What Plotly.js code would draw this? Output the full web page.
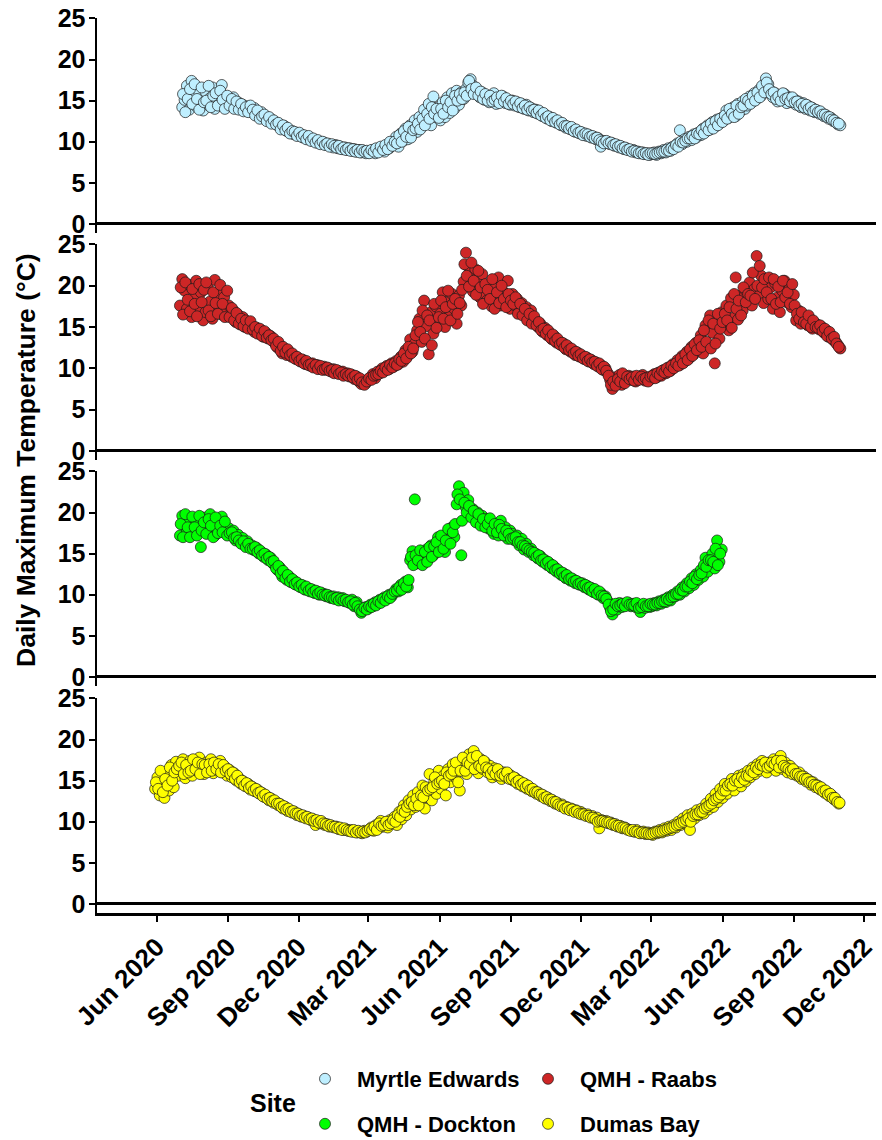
<!DOCTYPE html>
<html>
<head>
<meta charset="utf-8">
<script src="https://cdn.plot.ly/plotly-3.0.1.min.js"></script>
<style>html,body{margin:0;padding:0;background:#fff;}</style>
</head>
<body>
<div id="chart" style="width:882px;height:1140px;"></div>
<script>
// ---- data: daily maximum temperature (°C), two interleaved 3-day samplings per site ----
const sites = ['Myrtle Edwards', 'QMH - Raabs', 'QMH - Dockton', 'Dumas Bay'];
const siteColors = ['#BFEFFF', '#CD2626', '#00FF00', '#FFFF00'];
const startDatesA = ['2020-07-04', '2020-07-01', '2020-07-01', '2020-05-30'];
const startDatesB = ['2020-07-05', '2020-07-02', '2020-07-02', '2020-05-31'];
const stepDays = 3;
const xTickLabels = ['Jun 2020','Sep 2020','Dec 2020','Mar 2021','Jun 2021','Sep 2021','Dec 2021','Mar 2022','Jun 2022','Sep 2022','Dec 2022'];
const xTickDates = ['2020-06-01','2020-09-01','2020-12-01','2021-03-01','2021-06-01','2021-09-01','2021-12-01','2022-03-01','2022-06-01','2022-09-01','2022-12-01'];
const yTicks = [0, 5, 10, 15, 20, 25];

const myrtleEdwardsA = [
 14.2,15.1,16.8,13.9,17.4,15.6,14.3,16.2,15.0,13.8,
 16.1,14.5,15.3,16.6,14.0,15.8,14.6,16.9,15.2,14.3,
 15.0,14.6,15.4,14.2,14.8,14.0,14.5,13.8,14.3,13.9,
 13.6,14.1,13.4,13.2,13.6,12.9,13.0,12.6,12.8,12.3,
 12.4,12.0,11.8,11.6,11.9,11.3,11.4,11.1,10.9,11.0,
 10.8,10.9,10.5,10.6,10.3,10.4,10.1,10.2,9.9,10.0,9.8,
 9.9,9.6,9.7,9.5,9.3,9.6,9.2,9.4,9.1,9.3,
 9.0,9.2,8.9,9.1,8.8,9.0,8.7,8.9,8.6,
 8.8,8.7,9.0,8.6,9.1,8.9,9.3,8.8,9.5,9.2,9.8,
 9.6,10.6,9.4,11.0,10.1,11.6,10.3,12.0,10.9,12.6,
 11.2,13.0,11.8,13.9,12.3,14.6,12.0,15.5,13.0,14.2,
 12.6,14.8,13.0,15.4,13.5,15.9,14.0,16.2,14.5,16.0,
 15.2,16.4,17.2,17.6,16.8,15.9,16.3,15.4,16.0,15.1,
 15.6,14.8,15.4,15.9,14.6,15.2,14.9,15.5,14.7,15.1,14.5,
 15.0,14.4,14.8,14.2,14.6,14.0,14.5,13.8,14.1,13.6,
 13.9,13.4,13.6,13.1,13.3,12.8,13.0,12.5,12.7,12.3,
 12.4,12.0,12.1,11.7,11.8,11.5,11.6,11.2,11.3,11.0,
 11.1,10.9,10.7,10.8,10.5,10.6,10.3,10.4,9.4,10.1,
 9.9,10.0,9.7,9.8,9.5,9.6,9.3,9.4,9.1,9.2,9.0,
 8.9,9.0,8.7,8.8,8.6,8.7,8.5,8.6,8.4,
 8.5,8.7,8.4,8.8,8.6,9.0,8.7,9.2,8.9,9.4,
 9.3,9.8,11.4,9.7,10.3,10.0,10.6,10.2,10.9,10.5,
 11.1,10.8,11.6,11.2,12.0,11.5,12.4,11.8,12.7,12.2,12.9,
 12.6,13.8,12.9,13.5,14.2,13.1,14.6,13.7,14.9,14.0,
 14.4,15.5,14.8,15.9,15.2,16.3,15.6,16.6,17.7,17.0,
 16.2,15.4,15.9,14.9,15.6,15.1,15.8,14.7,15.4,14.8,
 15.2,14.5,14.9,14.2,14.7,14.0,14.4,13.8,14.1,13.6,
 13.8,13.4,13.5,13.1,13.2,12.8,12.9,12.5,12.4,12.1,
 12.0
];
const myrtleEdwardsB = [
 15.8,13.6,15.2,16.4,14.6,17.0,15.2,13.9,16.6,14.8,
 15.0,16.8,14.2,15.6,15.9,14.4,16.2,15.1,14.0,15.6,
 14.4,15.2,14.0,14.9,13.9,14.6,13.7,14.2,13.6,14.4,
 13.9,13.2,13.8,12.8,13.1,13.3,12.5,13.0,12.2,12.6,
 12.1,12.3,11.5,12.0,11.4,11.7,11.0,11.3,11.2,10.7,
 11.1,10.6,10.8,10.3,10.7,10.1,10.4,9.9,10.2,9.7,10.0,
 9.6,9.8,9.4,9.7,9.5,9.3,9.5,9.1,9.3,9.0,
 9.2,8.9,9.1,8.8,9.0,8.7,9.0,8.8,8.9,
 8.6,9.0,8.8,9.2,8.7,9.4,9.0,9.6,9.1,10.0,9.5,
 10.0,9.8,10.8,10.0,11.3,10.6,11.8,10.5,11.4,11.6,
 12.2,11.5,12.8,12.0,13.4,12.8,14.2,13.4,14.0,12.9,
 14.0,13.4,15.0,14.2,14.8,13.8,15.6,15.0,15.8,15.2,
 16.0,15.6,17.4,16.4,15.8,16.6,15.6,16.1,15.2,15.8,
 15.0,15.6,14.9,15.1,15.4,14.7,15.6,14.9,15.3,14.6,15.0,
 14.6,14.9,14.3,14.7,14.1,14.4,13.9,14.2,13.8,13.9,
 13.5,13.8,13.2,13.5,12.9,13.1,12.6,12.9,12.4,12.6,
 12.1,12.3,11.9,11.9,11.6,11.8,11.3,11.5,11.1,11.2,
 10.8,11.0,10.9,10.6,10.7,10.4,10.5,10.2,10.0,9.8,
 10.1,9.8,9.9,9.6,9.7,9.4,9.5,9.2,9.3,9.0,9.1,
 8.8,8.9,8.8,8.6,8.7,8.5,8.6,8.4,8.6,
 8.6,8.5,8.6,8.7,8.8,8.8,9.0,8.9,9.2,9.1,
 9.6,9.4,10.0,9.9,10.1,10.4,10.4,10.7,10.4,11.0,
 10.9,11.4,11.0,11.8,11.4,12.2,11.6,12.5,12.0,12.8,12.4,
 13.2,12.8,14.0,13.4,13.0,14.4,13.4,14.2,14.4,15.2,
 15.0,14.6,15.6,15.0,16.0,15.4,16.8,16.0,17.2,16.4,
 15.8,16.0,15.2,15.5,15.0,15.9,15.2,15.3,14.9,15.4,
 14.8,14.9,14.4,14.6,14.2,14.5,14.0,14.2,13.7,13.9,
 13.6,13.7,13.3,13.3,13.0,13.0,12.7,12.6,12.3,12.2
];

const qmhRaabsA = [
 17.6,20.8,19.4,17.2,20.1,16.2,18.5,20.6,17.0,19.2,15.8,
 16.8,19.8,18.1,16.0,20.7,17.4,19.0,16.5,18.6,17.1,
 17.6,16.4,17.0,15.6,16.5,15.3,16.2,15.0,15.6,15.2,
 15.1,14.4,14.9,14.2,14.6,13.8,14.3,13.6,13.9,13.3,
 13.0,12.5,12.8,11.8,12.2,11.6,12.0,11.4,11.5,11.1,
 11.2,10.8,11.0,10.5,10.7,10.3,10.6,10.2,10.4,10.0,10.1,
 10.2,9.8,10.0,9.6,9.9,9.5,9.7,9.4,9.6,9.2,
 9.4,9.0,9.2,8.7,9.0,8.4,8.1,8.5,8.2,
 8.6,8.9,9.3,8.8,9.6,9.4,10.0,9.7,10.3,9.9,10.6,
 10.2,10.9,10.5,11.4,10.8,12.2,11.5,13.5,12.0,13.0,
 14.6,16.0,13.2,18.2,15.1,11.7,16.8,14.2,17.5,15.4,
 16.6,19.2,15.0,18.0,16.3,19.0,17.2,15.4,18.8,17.6,
 20.5,24.0,22.3,21.0,19.3,22.0,20.4,18.6,21.4,19.0,
 18.2,20.2,17.5,19.8,18.6,21.0,17.6,19.3,18.0,20.6,17.2,
 19.0,17.6,18.4,16.8,17.9,16.5,17.4,16.0,17.0,15.6,
 15.8,15.0,15.4,14.4,14.9,14.0,14.3,13.5,13.9,13.1,
 13.3,12.8,13.0,12.3,12.6,12.0,12.2,11.6,11.9,11.4,
 11.5,11.1,11.3,10.8,11.0,10.5,10.7,10.2,10.4,9.8,
 10.0,9.4,8.6,7.5,8.9,8.2,9.2,8.0,8.8,8.5,9.1,
 8.6,9.0,8.4,8.8,8.7,9.2,8.5,8.9,8.6,
 8.8,9.3,8.9,9.5,9.1,9.8,9.4,10.1,9.7,10.5,
 10.2,11.0,10.4,11.5,10.8,12.0,11.2,12.6,11.7,13.1,
 12.4,14.0,11.8,15.2,12.9,16.4,14.3,10.6,15.7,13.6,16.8,
 15.2,17.6,14.6,18.5,16.1,21.0,15.9,18.8,17.0,19.5,
 18.2,20.4,17.6,19.6,23.6,18.8,21.2,17.9,20.5,18.4,
 19.8,17.2,20.3,18.6,16.8,19.4,20.6,18.0,19.6,17.4,
 18.9,15.8,17.0,15.4,16.3,15.9,15.2,16.0,14.8,15.5,
 15.3,14.7,15.0,14.3,14.6,13.8,14.0,13.4,13.2,12.8,
 12.4
];
const qmhRaabsB = [
 19.8,16.5,20.4,18.3,16.9,19.6,17.8,16.3,20.2,18.0,19.5,
 20.4,17.0,16.3,19.2,17.9,16.6,20.1,17.8,16.2,19.4,
 16.2,17.3,15.8,16.7,15.4,16.0,15.1,15.8,14.8,15.7,
 14.7,15.0,14.2,14.8,13.9,14.5,13.7,14.0,13.4,13.6,
 12.7,13.2,12.1,12.6,11.9,12.3,11.6,11.8,11.2,11.4,
 10.9,11.1,10.6,10.9,10.4,10.5,10.1,10.4,9.9,10.3,9.8,
 9.9,10.1,9.7,9.8,9.4,9.8,9.3,9.5,9.1,9.3,
 9.1,9.3,8.9,9.1,8.6,8.8,8.3,8.0,8.4,
 8.8,8.6,9.1,9.2,9.3,9.7,9.5,10.1,9.8,10.4,10.1,
 10.6,10.4,11.1,10.9,11.8,11.2,12.6,11.8,12.4,14.0,
 15.6,14.4,17.0,13.6,16.4,15.8,12.8,17.8,14.9,16.2,
 18.2,16.0,17.4,19.4,15.8,17.8,18.4,16.6,17.9,19.5,
 22.6,21.2,19.9,22.8,20.6,18.9,21.8,19.8,17.8,20.2,
 19.5,18.4,20.8,17.2,19.2,17.9,20.0,18.4,17.4,19.0,18.2,
 17.8,18.6,16.6,17.8,16.4,17.2,15.8,16.6,15.4,16.3,
 15.2,15.6,14.6,14.8,14.2,14.6,13.7,14.1,13.3,13.6,
 12.9,13.1,12.5,12.8,12.2,12.4,11.8,12.0,11.5,11.7,
 11.2,11.4,10.9,11.1,10.7,10.8,10.3,10.6,9.9,10.2,
 9.7,9.1,8.0,8.4,7.9,8.7,8.4,9.4,8.2,9.0,8.7,
 8.9,8.5,9.1,8.6,9.0,8.7,8.8,8.4,9.0,
 9.1,8.8,9.4,9.2,9.7,9.5,10.0,9.6,10.3,10.0,
 10.6,10.3,11.2,10.6,11.7,11.0,12.3,11.5,12.9,12.2,
 13.4,12.6,14.6,13.2,15.8,12.4,15.4,13.0,16.6,14.8,15.6,
 16.6,15.8,17.4,14.9,19.0,17.2,18.2,16.4,19.8,18.0,
 19.0,18.8,21.6,18.4,20.0,22.4,19.8,20.8,19.2,21.0,
 18.4,20.8,17.8,19.9,18.0,20.6,18.6,19.2,17.8,20.2,
 17.6,16.6,16.0,16.8,15.6,15.4,16.4,15.0,15.8,15.0,
 14.9,15.2,14.5,14.8,13.9,14.4,13.6,13.8,13.0,12.6
];

const qmhDocktonA = [
 17.2,19.6,18.4,17.6,19.2,18.0,17.4,19.0,18.6,15.8,19.4,
 18.2,17.5,19.8,18.0,17.2,18.8,17.8,19.5,18.3,17.6,
 18.1,17.2,17.8,16.6,17.3,16.4,16.9,16.0,16.5,15.8,
 16.0,15.4,15.7,15.0,15.2,14.6,14.9,14.2,14.5,13.8,
 13.6,13.0,13.3,12.2,12.6,11.8,12.2,11.5,11.7,11.2,
 11.3,10.9,11.1,10.6,10.8,10.4,10.6,10.2,10.4,10.0,10.2,
 10.1,9.8,9.9,9.6,9.8,9.5,9.7,9.4,9.6,9.2,
 9.3,9.0,9.4,8.6,9.1,8.4,7.8,8.2,8.5,
 8.3,8.8,8.6,9.1,8.9,9.4,9.2,9.7,9.5,10.0,9.8,
 10.2,10.7,10.4,11.2,10.8,11.6,10.9,14.2,15.3,21.6,
 13.8,14.6,15.0,13.9,15.5,14.4,16.0,14.8,15.6,17.0,
 15.8,16.8,15.2,17.4,16.4,18.2,17.0,21.0,23.2,14.8,
 22.4,20.6,21.5,19.8,20.4,19.2,20.0,18.8,19.6,18.5,
 19.2,18.0,18.8,17.4,18.4,17.2,19.0,17.6,18.2,16.8,17.8,
 17.4,16.6,17.2,16.0,16.8,15.5,16.2,15.2,15.6,14.8,
 15.0,14.4,14.7,14.0,14.2,13.6,13.8,13.2,13.4,12.8,
 12.9,12.4,12.6,12.0,12.2,11.7,11.9,11.4,11.6,11.2,
 11.4,10.9,11.1,10.6,10.8,10.3,10.5,10.0,10.2,9.6,
 9.8,9.2,8.4,7.6,8.6,8.2,9.0,8.5,8.9,8.7,9.0,
 8.6,8.9,8.5,8.8,7.9,8.7,8.4,8.8,8.5,
 8.6,9.0,8.7,9.2,8.9,9.4,9.1,9.7,9.3,10.0,
 9.8,10.4,10.0,10.9,10.4,11.4,10.8,12.0,11.2,12.5,
 11.8,13.0,12.2,14.5,12.8,13.6,15.0,13.2,16.6,14.0,15.5
];
const qmhDocktonB = [
 18.6,17.0,19.8,18.2,17.0,19.5,18.2,17.2,19.6,17.8,18.8,
 17.4,19.2,18.4,17.0,19.4,17.5,18.4,17.6,18.9,17.2,
 17.5,17.6,16.9,17.0,16.6,16.2,16.5,15.8,16.2,15.6,
 15.6,15.8,15.2,15.4,14.8,15.0,14.4,14.6,14.0,14.1,
 13.2,13.5,12.6,12.9,12.0,12.4,11.6,11.9,11.3,11.5,
 11.0,11.2,10.7,11.0,10.5,10.7,10.3,10.5,10.1,10.3,10.0,
 9.9,10.0,9.7,9.7,9.5,9.6,9.3,9.5,9.3,9.4,
 9.1,9.2,8.8,9.0,8.6,8.2,8.0,8.4,8.2,
 8.6,8.5,8.9,8.7,9.2,9.0,9.5,9.3,9.8,9.6,10.1,
 10.4,10.5,10.9,10.6,11.4,11.0,11.8,14.6,13.6,14.8,
 14.2,15.4,13.6,15.2,14.0,15.8,14.6,15.9,16.4,15.2,
 17.2,15.6,16.6,18.0,16.2,17.6,18.6,22.2,21.6,19.0,
 21.2,20.0,20.8,19.4,20.2,18.8,19.8,18.4,19.2,18.2,
 18.6,19.3,17.8,18.6,17.6,18.5,18.0,17.2,17.8,17.4,16.8,
 16.9,17.0,16.4,16.4,16.0,15.9,15.6,15.4,15.2,15.1,
 14.6,14.8,14.2,14.3,13.8,14.0,13.4,13.6,13.0,13.1,
 12.6,12.7,12.2,12.4,11.9,12.0,11.6,11.7,11.3,11.4,
 11.1,11.2,10.8,10.9,10.4,10.7,10.1,10.4,9.9,9.8,
 9.5,8.8,8.0,8.2,8.9,8.6,8.7,8.9,8.6,9.1,8.8,
 8.8,8.7,9.0,8.4,8.5,8.9,8.6,8.6,8.9,
 8.8,8.8,9.0,9.0,9.2,9.2,9.5,9.4,9.7,9.8,
 10.1,10.1,10.6,10.5,11.0,11.0,11.6,11.4,12.2,11.9,
 12.4,12.6,13.6,13.4,14.2,14.2,14.0,15.6,13.6,15.0
];

const dumasBayA = [
 14.0,
 15.4,13.2,14.6,12.9,15.8,13.8,16.9,14.2,17.3,15.6,
 16.2,17.6,15.3,16.8,17.4,15.6,17.0,16.2,17.8,16.4,
 15.8,17.2,16.4,17.6,15.9,16.8,16.2,17.4,16.0,16.7,15.6,
 16.3,15.4,15.9,15.0,15.3,14.6,14.9,14.3,14.6,13.9,
 14.2,13.7,13.9,13.4,13.5,13.0,13.1,12.6,12.8,12.3,
 12.4,12.0,12.1,11.6,11.8,11.3,11.4,11.1,11.2,10.8,
 10.9,10.6,10.7,10.4,10.5,10.2,10.3,9.6,10.0,9.8,
 9.9,9.6,9.7,9.4,9.5,9.3,9.4,9.1,9.2,9.0,9.1,
 8.9,9.0,8.8,8.9,8.7,8.8,8.6,8.9,8.8,
 9.0,9.3,8.9,9.6,9.2,10.1,9.4,9.8,9.3,10.2,
 9.8,10.6,9.6,11.2,10.3,12.0,10.8,12.6,11.5,13.2,
 11.8,13.6,12.4,14.4,11.6,13.0,15.8,12.6,14.8,13.4,16.2,
 14.0,15.6,13.2,16.4,14.8,17.0,15.4,16.2,13.8,16.8,
 17.4,15.8,18.2,16.6,18.6,17.0,15.9,17.6,16.4,17.2,
 16.0,16.8,15.4,16.5,15.6,16.2,15.2,16.0,15.4,15.8,
 15.6,15.0,15.3,14.6,14.9,14.3,14.6,14.0,14.2,13.7,
 13.8,13.4,13.5,13.1,13.2,12.8,12.9,12.5,12.6,12.2,
 12.3,12.0,12.1,11.7,11.8,11.5,11.6,11.3,11.4,11.1,
 11.2,11.0,10.8,10.9,10.6,10.7,10.4,10.5,9.2,10.2,10.0,
 10.1,9.8,9.9,9.6,9.7,9.4,9.5,9.2,9.3,9.1,
 9.0,8.9,8.8,9.0,8.7,8.6,8.8,8.5,8.7,8.6,
 8.4,8.8,8.6,9.0,8.7,9.2,8.9,9.4,9.0,9.6,
 9.3,10.0,9.6,10.4,9.8,10.8,9.0,11.0,10.4,11.4,
 10.8,11.6,11.0,12.2,11.5,12.8,11.8,13.4,12.4,14.0,
 12.9,14.6,13.4,14.2,15.2,13.8,14.6,15.6,14.3,15.8,
 14.9,16.2,15.4,16.6,15.8,17.0,16.2,17.4,16.4,16.0,17.2,
 16.6,17.6,16.2,17.0,18.0,16.4,17.2,16.0,16.8,15.8,
 16.2,15.6,16.0,15.2,15.5,14.9,15.1,14.5,14.8,14.2,
 14.4,13.9,14.0,13.5,13.6,13.1,13.2,12.7,12.6,12.2
];
const dumasBayB = [
 14.8,
 14.0,16.2,13.6,15.2,14.4,16.6,15.0,16.0,16.4,16.8,
 17.2,15.8,16.9,16.0,16.2,17.6,16.4,17.2,15.8,17.0,
 16.9,16.0,17.0,16.2,17.2,16.4,17.0,16.0,16.9,16.2,16.4,
 15.8,16.0,15.2,15.6,14.8,15.0,14.4,14.7,14.1,14.3,
 13.8,14.0,13.5,13.6,13.1,13.3,12.8,12.9,12.5,12.6,
 12.2,12.2,11.8,11.9,11.5,11.6,11.2,11.3,11.0,11.0,
 10.7,10.8,10.5,10.6,10.3,10.4,10.1,10.2,9.9,10.1,
 9.8,9.7,9.5,9.6,9.4,9.4,9.2,9.3,9.0,9.2,9.0,
 8.9,8.8,9.0,8.7,8.9,8.7,8.8,8.7,8.9,
 9.1,9.0,9.4,9.0,9.8,9.5,9.6,10.0,9.6,9.8,
 10.2,10.0,10.8,10.6,11.4,11.2,11.8,12.2,12.4,12.0,
 12.8,12.0,13.2,13.0,14.2,13.8,14.0,14.2,15.4,14.6,14.8,
 15.0,14.6,16.0,15.6,15.8,16.2,17.2,14.8,16.2,17.8,
 16.2,17.2,17.0,17.8,16.4,18.0,16.8,16.6,17.4,16.6,
 16.4,15.8,16.2,15.8,16.4,15.6,15.8,15.6,16.0,15.2,
 15.2,15.4,14.8,15.0,14.5,14.7,14.2,14.4,13.9,14.0,
 13.6,13.6,13.3,13.3,12.9,13.0,12.7,12.7,12.4,12.4,
 12.1,11.9,11.9,11.6,11.7,11.4,11.5,11.2,11.3,11.0,
 10.9,10.9,10.7,10.7,10.5,10.5,10.3,10.0,10.1,10.1,10.0,
 9.9,9.9,9.7,9.7,9.5,9.5,9.3,9.3,9.2,9.0,
 8.9,9.0,8.8,8.8,8.6,8.7,8.6,8.6,8.5,8.5,
 8.6,8.7,8.8,8.8,8.9,9.0,9.1,9.2,9.3,9.4,
 9.6,9.7,9.9,10.0,10.2,10.4,10.0,10.7,10.9,10.9,
 11.2,11.2,11.6,11.8,12.0,12.2,12.6,12.8,13.0,13.3,
 13.8,13.8,14.4,14.6,14.4,15.0,15.2,14.8,15.4,15.1,
 15.6,15.6,16.2,16.0,16.6,16.4,16.9,16.8,17.2,16.6,16.8,
 17.2,17.0,17.4,16.6,17.4,16.8,16.6,16.4,16.2,16.4,
 15.8,15.8,15.5,15.5,15.2,15.2,14.8,14.8,14.5,14.4,
 14.1,14.2,13.7,13.8,13.3,13.4,12.9,12.9,12.4,12.3
];

const seriesA = [myrtleEdwardsA, qmhRaabsA, qmhDocktonA, dumasBayA];
const seriesB = [myrtleEdwardsB, qmhRaabsB, qmhDocktonB, dumasBayB];

// ---- build traces ----
function datesFor(start, n) {
  const p = start.split('-').map(Number);
  const t0 = Date.UTC(p[0], p[1] - 1, p[2]);
  const out = [];
  for (let i = 0; i < n; i++) {
    out.push(new Date(t0 + i * stepDays * 86400000).toISOString().slice(0, 10));
  }
  return out;
}

const FONT = 'Liberation Sans, Arial, sans-serif';
const yAxisIds = ['y', 'y2', 'y3', 'y4'];
const legendIds = ['legend', 'legend', 'legend2', 'legend2'];

const traces = sites.map((name, k) => ({
  type: 'scatter',
  mode: 'markers',
  name: name,
  x: datesFor(startDatesA[k], seriesA[k].length).concat(datesFor(startDatesB[k], seriesB[k].length)),
  y: seriesA[k].concat(seriesB[k]),
  xaxis: 'x',
  yaxis: yAxisIds[k],
  legend: legendIds[k],
  marker: { size: 11, color: siteColors[k], line: { color: '#1a1a1a', width: 0.7 } },
  hoverinfo: 'x+y+name'
}));

// ---- layout ----
const H = 1140, W = 882;
const mt = 18, mb = 227, ml = 97, mr = 6;
const plotH = H - mt - mb;
const px2y = py => (H - mb - py) / plotH;
const panels = [[18, 233], [244, 460], [471, 686], [698, 913]];

function yaxisDef(k) {
  return {
    domain: [px2y(panels[k][1]), px2y(panels[k][0])],
    range: [-1.1, 25.05],
    tickvals: yTicks,
    ticktext: yTicks.map(String),
    ticks: 'outside', ticklen: 6, tickwidth: 2, tickcolor: '#000',
    ticklabelstandoff: -2,
    showline: true, linecolor: '#000', linewidth: 2.5,
    showgrid: false,
    zeroline: true, zerolinecolor: '#000', zerolinewidth: 3,
    tickfont: { family: FONT, size: 25, color: '#000', weight: 'bold' },
    anchor: 'x', fixedrange: true
  };
}

const legendCommon = {
  orientation: 'h', xref: 'container', yref: 'container',
  x: 293 / W, xanchor: 'left', yanchor: 'middle',
  itemwidth: 54,
  entrywidth: 154, entrywidthmode: 'pixels',
  font: { family: FONT, size: 22, color: '#000', weight: 'bold' },
  bgcolor: 'rgba(0,0,0,0)', borderwidth: 0, traceorder: 'normal'
};

const layout = {
  width: W, height: H,
  margin: { l: ml, r: mr, t: mt, b: mb, pad: 0, autoexpand: false },
  paper_bgcolor: '#fff', plot_bgcolor: '#fff',
  showlegend: true,
  xaxis: {
    type: 'date',
    range: ['2020-03-16', '2022-12-16'],
    anchor: 'y4',
    tickvals: xTickDates,
    ticktext: xTickLabels,
    tickangle: -45,
    ticks: 'outside', ticklen: 6, tickwidth: 2, tickcolor: '#000',
    showline: true, linecolor: '#000', linewidth: 2.5,
    showgrid: false, zeroline: false,
    tickfont: { family: FONT, size: 26, color: '#000', weight: 'bold' },
    fixedrange: true
  },
  yaxis: yaxisDef(0),
  yaxis2: yaxisDef(1),
  yaxis3: yaxisDef(2),
  yaxis4: yaxisDef(3),
  legend: Object.assign({}, legendCommon, { y: 1 - 1079 / H }),
  legend2: Object.assign({}, legendCommon, { y: 1 - 1124 / H }),
  annotations: [
    {
      text: 'Daily Maximum Temperature (°C)', xref: 'paper', yref: 'paper',
      x: (26 - ml) / (W - ml - mr), y: px2y(460), xanchor: 'center', yanchor: 'middle',
      textangle: -90, showarrow: false,
      font: { family: FONT, size: 26.5, color: '#000', weight: 'bold' }
    },
    {
      text: 'Site', xref: 'paper', yref: 'paper',
      x: (273 - ml) / (W - ml - mr), y: px2y(1103), xanchor: 'center', yanchor: 'middle',
      showarrow: false,
      font: { family: FONT, size: 25, color: '#000', weight: 'bold' }
    }
  ]
};

Plotly.newPlot('chart', traces, layout, { displayModeBar: false, staticPlot: true });
</script>
</body>
</html>
